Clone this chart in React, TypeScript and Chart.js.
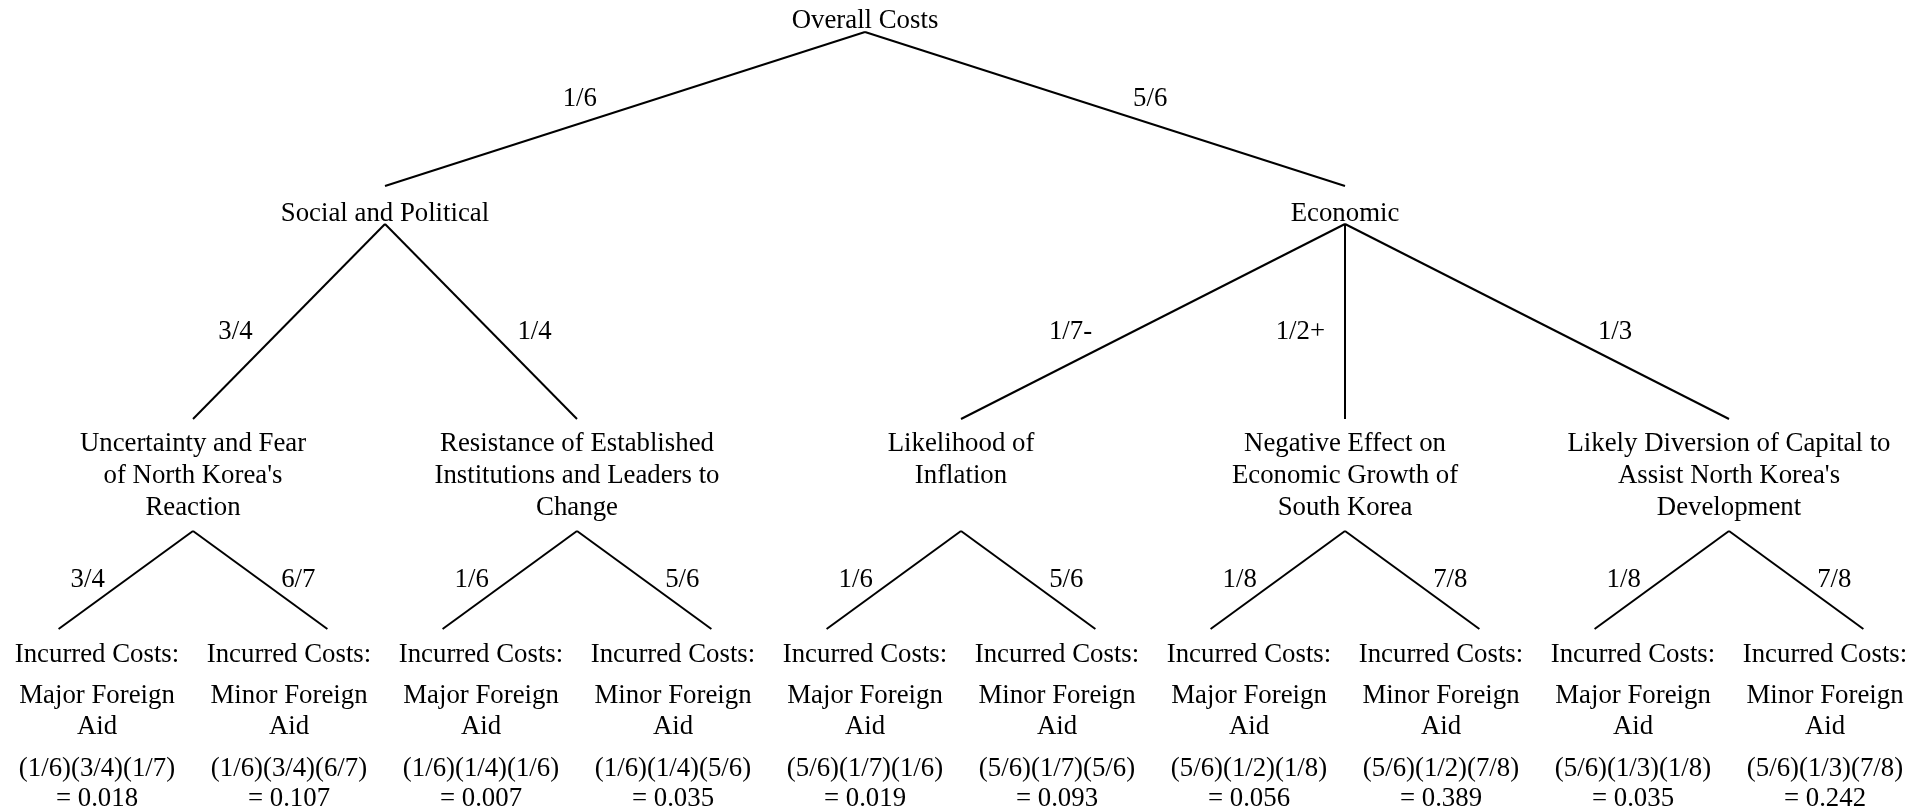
import React, { useEffect, useRef } from "react";
import { Chart, registerables } from "chart.js";

Chart.register(...registerables);

// ---------------- DATA ----------------
const rootLabel = "Overall Costs";
const level1Labels = ["Social and Political", "Economic"];
const level1Probs = ["1/6", "5/6"];
const level2Labels = [
  ["Uncertainty and Fear", "of North Korea's", "Reaction"],
  ["Resistance of Established", "Institutions and Leaders to", "Change"],
  ["Likelihood of", "Inflation"],
  ["Negative Effect on", "Economic Growth of", "South Korea"],
  ["Likely Diversion of Capital to", "Assist North Korea's", "Development"],
];
const level2Parent = [0, 0, 1, 1, 1];
const level2Probs = ["3/4", "1/4", "1/7-", "1/2+", "1/3"];
const leafHeading = "Incurred Costs:";
const leafOutcomes = [
  ["Major Foreign", "Aid"],
  ["Minor Foreign", "Aid"],
];
const leafProbs = [
  ["3/4", "6/7"],
  ["1/6", "5/6"],
  ["1/6", "5/6"],
  ["1/8", "7/8"],
  ["1/8", "7/8"],
];
const leafProducts = [
  "(1/6)(3/4)(1/7)",
  "(1/6)(3/4)(6/7)",
  "(1/6)(1/4)(1/6)",
  "(1/6)(1/4)(5/6)",
  "(5/6)(1/7)(1/6)",
  "(5/6)(1/7)(5/6)",
  "(5/6)(1/2)(1/8)",
  "(5/6)(1/2)(7/8)",
  "(5/6)(1/3)(1/8)",
  "(5/6)(1/3)(7/8)",
];
const leafValues = ["0.018", "0.107", "0.007", "0.035", "0.019", "0.093", "0.056", "0.389", "0.035", "0.242"];

// ---------------- LAYOUT ----------------
const W = 1930;
const H = 812;
const SLOT_PX = 192;
const FIRST_SLOT_PX = 97;
const X_MIN = -FIRST_SLOT_PX / SLOT_PX;
const X_MAX = (W - FIRST_SLOT_PX) / SLOT_PX;
const ROW = {
  rootText: 28,
  rootApex: 32,
  l1End: 186,
  l1Text: 221,
  l1Apex: 224,
  l2End: 419,
  l2Text: 451,
  l2Apex: 531,
  leafEnd: 629,
  l1Prob: 106,
  l2Prob: 339,
  leafProb: 587,
};
const LEAF_ROWS = [662, 703, 734, 776, 806];
const LINE_H = 32;
const LEAF_SPREAD = 1.4;
const FONT = '26.8px "Liberation Serif", "Times New Roman", serif';

// structural positions (in leaf-slot units)
const l2X = level2Labels.map((_, j) => 2 * j + 0.5);
const l1X = level1Labels.map((_, k) => {
  const xs = l2X.filter((_, j) => level2Parent[j] === k);
  return (Math.min(...xs) + Math.max(...xs)) / 2;
});
const rootX = (Math.min(...l1X) + Math.max(...l1X)) / 2;

type Edge = { x1: number; y1: number; x2: number; y2: number; label: string; row: number; gap: number };
const edges: Edge[] = [];
level1Labels.forEach((_, k) => {
  edges.push({ x1: rootX, y1: ROW.rootApex, x2: l1X[k], y2: ROW.l1End, label: level1Probs[k], row: ROW.l1Prob, gap: 20 });
});
level2Labels.forEach((_, j) => {
  const p = level2Parent[j];
  edges.push({ x1: l1X[p], y1: ROW.l1Apex, x2: l2X[j], y2: ROW.l2End, label: level2Probs[j], row: ROW.l2Prob, gap: 20 });
});
level2Labels.forEach((_, j) => {
  [0, 1].forEach((s) => {
    const leaf = 2 * j + s;
    edges.push({
      x1: l2X[j],
      y1: ROW.l2Apex,
      x2: l2X[j] + (leaf - l2X[j]) * LEAF_SPREAD,
      y2: ROW.leafEnd,
      label: leafProbs[j][s],
      row: ROW.leafProb,
      gap: 14,
    });
  });
});

const textPlugin = {
  id: "treeText",
  afterDatasetsDraw(chart: any) {
    const ctx = chart.ctx as CanvasRenderingContext2D;
    const xs = chart.scales.x;
    const ys = chart.scales.y;
    const px = (v: number) => xs.getPixelForValue(v);
    const py = (v: number) => ys.getPixelForValue(v);
    ctx.save();
    ctx.fillStyle = "#000";
    ctx.font = FONT;
    ctx.textBaseline = "alphabetic";
    ctx.textAlign = "center";
    // nodes
    ctx.fillText(rootLabel, px(rootX), py(ROW.rootText));
    level1Labels.forEach((t, k) => ctx.fillText(t, px(l1X[k]), py(ROW.l1Text)));
    level2Labels.forEach((lines, j) => {
      lines.forEach((ln, i) => ctx.fillText(ln, px(l2X[j]), py(ROW.l2Text + i * LINE_H)));
    });
    leafProducts.forEach((prod, i) => {
      const lines = [leafHeading, leafOutcomes[i % 2][0], leafOutcomes[i % 2][1], prod, "= " + leafValues[i]];
      lines.forEach((ln, r) => ctx.fillText(ln, px(i), py(LEAF_ROWS[r])));
    });
    // edge labels
    edges.forEach((e) => {
      const x1 = px(e.x1), y1 = py(e.y1), x2 = px(e.x2), y2 = py(e.y2);
      const base = py(e.row);
      const yc = base - 9;
      const t = (yc - y1) / (y2 - y1);
      const xe = x1 + (x2 - x1) * t;
      const dx = x2 - x1, dy = y2 - y1;
      const sin = Math.abs(dy) / Math.hypot(dx, dy);
      const side = dx > 1 ? 1 : -1;
      ctx.textAlign = side > 0 ? "left" : "right";
      ctx.fillText(e.label, xe + (side * e.gap) / sin, base);
    });
    ctx.restore();
  },
};

export default function App() {
  const ref = useRef<HTMLCanvasElement>(null);
  useEffect(() => {
    if (!ref.current) return;
    const chart = new Chart(ref.current, {
      type: "scatter",
      data: {
        datasets: edges.map((e) => ({
          data: [
            { x: e.x1, y: e.y1 },
            { x: e.x2, y: e.y2 },
          ],
          showLine: true,
          borderColor: "#000",
          backgroundColor: "#000",
          borderWidth: 2,
          pointRadius: 0,
          pointHoverRadius: 0,
          fill: false,
          clip: false as any,
        })),
      },
      options: {
        responsive: false,
        animation: false,
        events: [],
        layout: { padding: 0 },
        scales: {
          x: { type: "linear", min: X_MIN, max: X_MAX, display: false },
          y: { type: "linear", min: 0, max: H, reverse: true, display: false },
        },
        plugins: { legend: { display: false }, tooltip: { enabled: false } },
      },
      plugins: [textPlugin],
    });
    return () => chart.destroy();
  }, []);
  return (
    <div style={{ position: "fixed", left: 0, top: 0, width: W, height: H, background: "#fff" }}>
      <canvas ref={ref} width={W} height={H} style={{ width: W, height: H, display: "block" }} />
    </div>
  );
}
